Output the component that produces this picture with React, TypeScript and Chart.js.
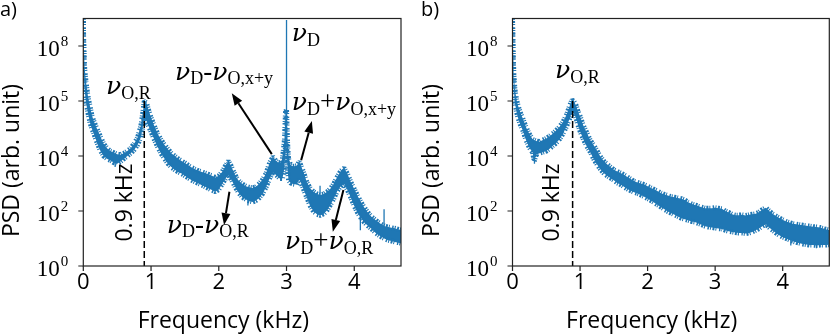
import React, { useEffect, useRef } from "react";
import { Chart, registerables } from "chart.js";

Chart.register(...registerables);

// ---------- data (log10 of PSD, position units on the drawn axis) ----------
const xTickValues = [0, 1, 2, 3, 4];
const yTickPositions = [0, 2, 4, 6, 8];
const yTickExponents = ["0", "2", "4", "5", "8"];

const aFreq = [0, 0.005, 0.01, 0.02, 0.04, 0.07, 0.1, 0.125, 0.15, 0.2, 0.25, 0.3, 0.35, 0.4, 0.45, 0.5, 0.55, 0.6, 0.65, 0.7, 0.75, 0.8, 0.85, 0.88, 0.9, 0.93, 0.96, 1.0, 1.05, 1.1, 1.15, 1.2, 1.25, 1.3, 1.35, 1.4, 1.45, 1.5, 1.55, 1.6, 1.65, 1.7, 1.75, 1.8, 1.85, 1.9, 1.95, 2.0, 2.05, 2.1, 2.14, 2.18, 2.22, 2.26, 2.3, 2.35, 2.4, 2.45, 2.5, 2.55, 2.6, 2.65, 2.7, 2.75, 2.8, 2.85, 2.9, 2.94, 2.97, 2.985, 3.0, 3.015, 3.03, 3.06, 3.1, 3.15, 3.19, 3.22, 3.25, 3.3, 3.35, 3.4, 3.45, 3.5, 3.55, 3.6, 3.65, 3.7, 3.75, 3.8, 3.85, 3.9, 3.95, 4.0, 4.05, 4.1, 4.15, 4.2, 4.25, 4.3, 4.35, 4.4, 4.45, 4.5, 4.55, 4.6, 4.65, 4.7];
const aUpper = [9.0, 8.3, 7.9, 7.2, 6.7, 6.15, 5.8, 5.5, 5.3, 5.0, 4.72, 4.45, 4.28, 4.18, 4.12, 4.06, 4.05, 4.1, 4.18, 4.28, 4.45, 4.66, 5.1, 5.6, 6.0, 5.95, 5.7, 5.4, 5.08, 4.8, 4.58, 4.4, 4.25, 4.1, 4.0, 3.9, 3.82, 3.75, 3.66, 3.58, 3.52, 3.46, 3.42, 3.38, 3.33, 3.28, 3.22, 3.28, 3.42, 3.65, 3.82, 3.65, 3.42, 3.22, 3.08, 2.98, 2.9, 2.86, 2.84, 2.88, 3.0, 3.15, 3.38, 3.75, 3.97, 3.8, 3.74, 3.9, 4.6, 5.6, 5.7, 4.5, 3.9, 3.67, 3.62, 3.65, 3.8, 3.6, 3.43, 3.05, 2.82, 2.7, 2.62, 2.58, 2.62, 2.7, 2.82, 3.0, 3.25, 3.45, 3.56, 3.35, 3.05, 2.8, 2.55, 2.32, 2.12, 1.95, 1.8, 1.7, 1.6, 1.52, 1.45, 1.42, 1.39, 1.37, 1.33, 1.3];
const aLower = [9.0, 7.6, 7.0, 6.4, 5.95, 5.55, 5.2, 5.0, 4.85, 4.5, 4.2, 4.0, 3.9, 3.84, 3.76, 3.72, 3.8, 3.9, 4.0, 4.1, 4.22, 4.4, 4.68, 5.08, 5.45, 5.3, 5.1, 4.88, 4.58, 4.32, 4.08, 3.9, 3.72, 3.6, 3.5, 3.42, 3.36, 3.28, 3.2, 3.12, 3.06, 3.0, 2.94, 2.88, 2.82, 2.76, 2.7, 2.78, 2.98, 3.18, 3.3, 3.16, 2.98, 2.8, 2.64, 2.5, 2.42, 2.36, 2.33, 2.38, 2.48, 2.64, 2.88, 3.18, 3.4, 3.3, 3.18, 3.18, 3.58, 4.4, 4.5, 3.5, 3.12, 3.02, 2.98, 2.96, 3.16, 2.98, 2.8, 2.48, 2.18, 1.98, 1.88, 1.84, 1.9, 2.03, 2.23, 2.46, 2.73, 2.9, 2.98, 2.76, 2.48, 2.18, 1.93, 1.74, 1.58, 1.46, 1.36, 1.24, 1.14, 1.06, 0.99, 0.94, 0.91, 0.87, 0.85, 0.82];
const aSpikeFreq = [3.0, 3.495, 4.44, 4.09, 0.47, 2.43];
const aSpikeTop = [8.95, 2.92, 2.06, 1.9, 3.85, 2.45];
const aSpikeBase = [4.5, 2.3, 1.3, 1.3, 3.6, 2.2];

const bFreq = [0, 0.005, 0.01, 0.02, 0.035, 0.06, 0.08, 0.1, 0.125, 0.15, 0.2, 0.25, 0.3, 0.32, 0.35, 0.4, 0.45, 0.5, 0.55, 0.6, 0.65, 0.7, 0.75, 0.8, 0.85, 0.88, 0.91, 0.94, 0.97, 1.0, 1.05, 1.1, 1.15, 1.2, 1.25, 1.3, 1.35, 1.4, 1.45, 1.5, 1.55, 1.6, 1.65, 1.7, 1.75, 1.8, 1.85, 1.9, 1.95, 2.0, 2.05, 2.1, 2.15, 2.2, 2.25, 2.3, 2.35, 2.4, 2.45, 2.5, 2.55, 2.6, 2.65, 2.7, 2.75, 2.8, 2.85, 2.9, 2.95, 3.0, 3.05, 3.1, 3.15, 3.2, 3.25, 3.3, 3.35, 3.4, 3.45, 3.5, 3.55, 3.6, 3.65, 3.7, 3.75, 3.8, 3.85, 3.9, 3.95, 4.0, 4.05, 4.1, 4.15, 4.2, 4.25, 4.3, 4.35, 4.4, 4.45, 4.5, 4.55, 4.6, 4.65, 4.7];
const bUpper = [9.0, 8.4, 7.7, 7.0, 6.45, 6.05, 5.85, 5.7, 5.52, 5.38, 5.05, 4.8, 4.6, 4.58, 4.55, 4.52, 4.58, 4.64, 4.72, 4.82, 4.94, 5.07, 5.25, 5.5, 5.85, 6.04, 5.98, 5.85, 5.62, 5.45, 5.1, 4.85, 4.58, 4.4, 4.2, 3.98, 3.82, 3.7, 3.6, 3.5, 3.44, 3.38, 3.32, 3.24, 3.16, 3.08, 3.04, 3.0, 2.96, 2.9, 2.84, 2.78, 2.72, 2.65, 2.6, 2.56, 2.52, 2.5, 2.47, 2.45, 2.4, 2.32, 2.26, 2.22, 2.18, 2.14, 2.1, 2.1, 2.1, 2.12, 2.1, 2.08, 2.0, 1.95, 1.88, 1.85, 1.85, 1.86, 1.84, 1.86, 1.88, 1.9, 1.96, 2.05, 2.12, 2.0, 1.9, 1.82, 1.75, 1.68, 1.62, 1.58, 1.54, 1.52, 1.5, 1.48, 1.46, 1.45, 1.43, 1.42, 1.4, 1.36, 1.33, 1.3];
const bLower = [9.0, 7.8, 7.1, 6.4, 5.95, 5.6, 5.4, 5.25, 5.08, 4.95, 4.58, 4.3, 4.12, 3.8, 4.05, 4.1, 4.14, 4.18, 4.26, 4.38, 4.48, 4.62, 4.82, 5.08, 5.38, 5.6, 5.55, 5.38, 5.12, 4.9, 4.6, 4.35, 4.15, 3.9, 3.7, 3.52, 3.38, 3.28, 3.2, 3.12, 3.02, 2.96, 2.88, 2.8, 2.74, 2.68, 2.64, 2.58, 2.52, 2.45, 2.38, 2.3, 2.22, 2.14, 2.06, 1.98, 1.92, 1.86, 1.8, 1.74, 1.7, 1.66, 1.62, 1.6, 1.55, 1.5, 1.45, 1.42, 1.4, 1.38, 1.36, 1.35, 1.3, 1.26, 1.24, 1.22, 1.2, 1.2, 1.18, 1.2, 1.24, 1.3, 1.36, 1.45, 1.52, 1.4, 1.3, 1.2, 1.12, 1.05, 1.0, 0.95, 0.9, 0.86, 0.83, 0.8, 0.78, 0.76, 0.76, 0.75, 0.76, 0.76, 0.76, 0.78];
const bSpikeFreq = [0.325, 4.12, 4.5];
const bSpikeTop = [4.3, 1.3, 1.2];
const bSpikeBase = [3.72, 0.75, 0.65];

// ---------- styling / annotation config ----------
const BLUE = "#1f77b4";
const SANS = '"Open Sans", "Noto Sans", sans-serif';
const SERIF = '"Liberation Serif", "DejaVu Serif", serif';
const NU_FONT = 'italic 25px "DejaVu Serif", serif';
const MAIN = 27;
const SUB = 18;
const EDGE_DASH = [1, 1.5, 2, 1, 1, 2.5, 1.5, 1];

type Part = [string, "i" | "n" | "s"];
const NU_OR: Part[] = [["ν", "i"], ["O,R", "s"]];
const NU_D: Part[] = [["ν", "i"], ["D", "s"]];
const NU_DM_OXY: Part[] = [["ν", "i"], ["D", "s"], ["-", "n"], ["ν", "i"], ["O,x+y", "s"]];
const NU_DP_OXY: Part[] = [["ν", "i"], ["D", "s"], ["+", "n"], ["ν", "i"], ["O,x+y", "s"]];
const NU_DM_OR: Part[] = [["ν", "i"], ["D", "s"], ["-", "n"], ["ν", "i"], ["O,R", "s"]];
const NU_DP_OR: Part[] = [["ν", "i"], ["D", "s"], ["+", "n"], ["ν", "i"], ["O,R", "s"]];

interface PanelCfg {
  freq: number[];
  upper: number[];
  lower: number[];
  spikeFreq: number[];
  spikeTop: number[];
  spikeBase: number[];
  padding: { left: number; right: number; top: number; bottom: number };
  panelLabel: string;
  panelLabelX: number;
  yTitleX: number;
  xTitleX: number;
  dashF: number;
  dashTop: number;
  khz: [number, number];
  labels: { f: number; e: number; parts: Part[] }[];
  arrows: [number, number, number, number][];
}

const panelA: PanelCfg = {
  freq: aFreq,
  upper: aUpper,
  lower: aLower,
  spikeFreq: aSpikeFreq,
  spikeTop: aSpikeTop,
  spikeBase: aSpikeBase,
  padding: { left: 83.3, right: 14, top: 18.5, bottom: 69 },
  panelLabel: "a)",
  panelLabelX: 0,
  yTitleX: 18.5,
  xTitleX: 223.3,
  dashF: 0.9,
  dashTop: 6.0,
  khz: [0.616, 2.31],
  labels: [
    { f: 0.335, e: 6.25, parts: NU_OR },
    { f: 3.078, e: 8.18, parts: NU_D },
    { f: 1.354, e: 6.78, parts: NU_DM_OXY },
    { f: 3.078, e: 5.67, parts: NU_DP_OXY },
    { f: 1.232, e: 1.21, parts: NU_DM_OR },
    { f: 2.979, e: 0.61, parts: NU_DP_OR },
  ],
  arrows: [
    [2.783, 4.07, 2.192, 6.28],
    [3.216, 3.85, 3.374, 5.27],
    [2.157, 2.7, 2.078, 1.49],
    [3.84, 2.76, 3.684, 1.25],
  ],
};

const panelB: PanelCfg = {
  freq: bFreq,
  upper: bUpper,
  lower: bLower,
  spikeFreq: bSpikeFreq,
  spikeTop: bSpikeTop,
  spikeBase: bSpikeBase,
  padding: { left: 97.5, right: 0.7, top: 18.5, bottom: 69 },
  panelLabel: "b)",
  panelLabelX: 6,
  yTitleX: 24,
  xTitleX: 236.7,
  dashF: 0.89,
  dashTop: 6.0,
  khz: [0.587, 2.31],
  labels: [{ f: 0.63, e: 6.83, parts: NU_OR }],
  arrows: [],
};

function drawMath(ctx: CanvasRenderingContext2D, x: number, y: number, parts: Part[]) {
  let cx = x;
  ctx.textAlign = "left";
  ctx.textBaseline = "alphabetic";
  for (const [t, k] of parts) {
    if (k === "i") ctx.font = NU_FONT;
    else if (k === "n") ctx.font = `${MAIN}px ${SERIF}`;
    else ctx.font = `${SUB}px ${SERIF}`;
    const dy = k === "s" ? 4.5 : 0;
    ctx.fillText(t, cx, y + dy);
    cx += ctx.measureText(t).width;
  }
}

function drawArrow(ctx: CanvasRenderingContext2D, x1: number, y1: number, x2: number, y2: number) {
  const ang = Math.atan2(y2 - y1, x2 - x1);
  const hl = 12;
  const hw = 4.5;
  const bx = x2 - hl * Math.cos(ang);
  const by = y2 - hl * Math.sin(ang);
  ctx.beginPath();
  ctx.moveTo(x1, y1);
  ctx.lineTo(bx, by);
  ctx.lineWidth = 2;
  ctx.strokeStyle = "#000";
  ctx.stroke();
  ctx.beginPath();
  ctx.moveTo(x2, y2);
  ctx.lineTo(bx + hw * Math.sin(ang), by - hw * Math.cos(ang));
  ctx.lineTo(bx - hw * Math.sin(ang), by + hw * Math.cos(ang));
  ctx.closePath();
  ctx.fillStyle = "#000";
  ctx.fill();
}

function makeDecorPlugin(cfg: PanelCfg) {
  return {
    id: "decor",
    afterDatasetsDraw(chart: any) {
      const ctx: CanvasRenderingContext2D = chart.ctx;
      const xs = chart.scales.x;
      const ys = chart.scales.y;
      const area = chart.chartArea;
      ctx.save();
      // dashed marker line
      ctx.beginPath();
      ctx.setLineDash([7, 3]);
      ctx.strokeStyle = "#000";
      ctx.lineWidth = 1.5;
      const dx = xs.getPixelForValue(cfg.dashF);
      ctx.moveTo(dx, ys.getPixelForValue(cfg.dashTop));
      ctx.lineTo(dx, ys.getPixelForValue(0));
      ctx.stroke();
      ctx.setLineDash([]);

      // rotated 0.9 kHz
      ctx.save();
      ctx.translate(xs.getPixelForValue(cfg.khz[0]), ys.getPixelForValue(cfg.khz[1]));
      ctx.rotate(-Math.PI / 2);
      ctx.font = `23px ${SANS}`;
      ctx.fillStyle = "#000";
      ctx.textAlign = "center";
      ctx.textBaseline = "middle";
      ctx.fillText("0.9 kHz", 0, 0);
      ctx.restore();

      // labels
      ctx.fillStyle = "#000";
      for (const l of cfg.labels) {
        drawMath(ctx, xs.getPixelForValue(l.f), ys.getPixelForValue(l.e), l.parts);
      }
      for (const a of cfg.arrows) {
        drawArrow(
          ctx,
          xs.getPixelForValue(a[0]),
          ys.getPixelForValue(a[1]),
          xs.getPixelForValue(a[2]),
          ys.getPixelForValue(a[3])
        );
      }

      // frame
      ctx.strokeStyle = "#222";
      ctx.lineWidth = 1.2;
      ctx.strokeRect(area.left, area.top, area.right - area.left, area.bottom - area.top);

      // ticks
      ctx.beginPath();
      for (const v of xTickValues) {
        const px = xs.getPixelForValue(v);
        ctx.moveTo(px, area.bottom);
        ctx.lineTo(px, area.bottom + 5);
      }
      for (const v of yTickPositions) {
        const py = ys.getPixelForValue(v);
        ctx.moveTo(area.left - 5, py);
        ctx.lineTo(area.left, py);
      }
      ctx.stroke();

      // x tick labels
      ctx.fillStyle = "#000";
      ctx.font = `22px ${SANS}`;
      ctx.textAlign = "center";
      ctx.textBaseline = "alphabetic";
      for (const v of xTickValues) {
        ctx.fillText(String(v), xs.getPixelForValue(v), 288.5);
      }
      // y tick labels: 10^n
      yTickPositions.forEach((v, i) => {
        const py = ys.getPixelForValue(v);
        ctx.font = `23px ${SERIF}`;
        const w10 = ctx.measureText("10").width;
        ctx.font = `15px ${SERIF}`;
        const wexp = ctx.measureText(yTickExponents[i]).width;
        const right = area.left - 15;
        const start = right - w10 - wexp - 1;
        ctx.textAlign = "left";
        ctx.font = `23px ${SERIF}`;
        ctx.fillText("10", start, py + 9.5);
        ctx.font = `15px ${SERIF}`;
        ctx.fillText(yTickExponents[i], start + w10 + 1, py - 0.5);
      });

      // axis titles
      ctx.font = `23px ${SANS}`;
      ctx.textAlign = "center";
      ctx.fillText("Frequency (kHz)", cfg.xTitleX, 327.5);
      ctx.save();
      ctx.translate(cfg.yTitleX, 160.5);
      ctx.rotate(-Math.PI / 2);
      ctx.textBaseline = "alphabetic";
      ctx.fillText("PSD (arb. unit)", 0, 0);
      ctx.restore();

      // panel label
      ctx.font = `20px ${SANS}`;
      ctx.textAlign = "left";
      ctx.fillText(cfg.panelLabel, cfg.panelLabelX, 15.5);
      ctx.restore();
    },
  };
}

function Panel({ cfg, left }: { cfg: PanelCfg; left: number }) {
  const ref = useRef<HTMLCanvasElement | null>(null);
  useEffect(() => {
    if (!ref.current) return;
    const edge = {
      borderColor: BLUE,
      borderWidth: 5,
      borderDash: EDGE_DASH,
      borderJoinStyle: "bevel",
      borderCapStyle: "butt",
      pointRadius: 0,
      tension: 0,
    };
    const datasets: any[] = [
      {
        ...edge,
        data: cfg.freq.map((f, i) => ({ x: f, y: cfg.lower[i] })),
        fill: false,
      },
      {
        ...edge,
        data: cfg.freq.map((f, i) => ({ x: f, y: cfg.upper[i] })),
        backgroundColor: BLUE,
        fill: "-1",
      },
    ];
    cfg.spikeFreq.forEach((f, i) => {
      datasets.push({
        data: [
          { x: f, y: cfg.spikeBase[i] },
          { x: f, y: cfg.spikeTop[i] },
        ],
        borderColor: BLUE,
        borderWidth: 1.3,
        pointRadius: 0,
        fill: false,
      });
    });
    const chart = new Chart(ref.current, {
      type: "line",
      data: { datasets },
      options: {
        animation: false,
        responsive: false,
        events: [],
        layout: { padding: cfg.padding },
        plugins: { legend: { display: false }, tooltip: { enabled: false } },
        scales: {
          x: { type: "linear", min: 0, max: 4.69, display: false },
          y: { type: "linear", min: 0, max: 9, display: false },
        },
      },
      plugins: [makeDecorPlugin(cfg)],
    } as any);
    return () => chart.destroy();
  }, [cfg]);
  return (
    <canvas
      ref={ref}
      width={415}
      height={335}
      style={{ position: "absolute", left, top: 0, width: 415, height: 335, display: "block" }}
    />
  );
}

export default function App() {
  return (
    <div style={{ position: "absolute", left: 0, top: 0, width: 830, height: 335, background: "#fff" }}>
      <Panel cfg={panelA} left={0} />
      <Panel cfg={panelB} left={415} />
    </div>
  );
}
